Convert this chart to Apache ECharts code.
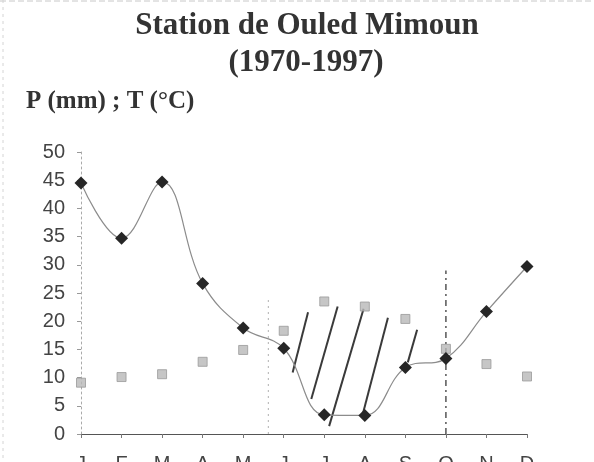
<!DOCTYPE html>
<html>
<head>
<meta charset="utf-8">
<script src="https://cdn.jsdelivr.net/npm/echarts@6/dist/echarts.min.js"></script>
<style>
  html, body { margin: 0; padding: 0; background: #fff; }
  #chart { width: 594px; height: 462px; }
</style>
</head>
<body>
<div id="chart"></div>
<script>
// Monthly climate normals, Ouled Mimoun station (1970-1997)
const months = ['J', 'F', 'M', 'A', 'M', 'J', 'J', 'A', 'S', 'O', 'N', 'D'];
const precipitation = [44.5, 34.7, 44.7, 26.7, 18.8, 15.2, 3.4, 3.3, 11.8, 13.4, 21.7, 29.7]; // P (mm)
const temperature = [9.1, 10.1, 10.6, 12.8, 14.9, 18.3, 23.5, 22.6, 20.4, 15.1, 12.4, 10.2];   // T (°C)
const yTicks = [0, 5, 10, 15, 20, 25, 30, 35, 40, 45, 50];

// Hand-drawn hatching of the dry season: [month index, value] start and end of each stroke
const hatchStart = [[5.22, 10.9], [5.68, 6.2], [6.12, 1.4], [6.96, 3.8], [8.06, 12.7]];
const hatchEnd   = [[5.60, 21.6], [6.33, 22.6], [6.97, 22.2], [7.57, 20.6], [8.29, 18.5]];

// Vertical markers bounding the dry period: [month index, top value]
const dryBounds = [[4.62, 24.0], [9.0, 29.0]];

const chart = echarts.init(document.getElementById('chart'), null, { renderer: 'canvas' });

const hatchSeries = hatchStart.map((s, i) => ({
  type: 'line',
  xAxisIndex: 1,
  data: [s, hatchEnd[i]],
  symbol: 'none',
  silent: true,
  lineStyle: { color: '#3a3a3a', width: 2 },
  z: 3
}));

const boundSeries = dryBounds.map((b, i) => ({
  type: 'line',
  xAxisIndex: 1,
  data: [[b[0], 0], [b[0], b[1]]],
  symbol: 'none',
  silent: true,
  lineStyle: i === 0
    ? { color: '#b0b0b0', width: 1, type: [2, 4] }
    : { color: '#555', width: 1.5, type: [6, 4, 2, 4] },
  z: 1
}));

chart.setOption({
  animation: false,
  backgroundColor: '#fff',
  graphic: [
    { type: 'line', shape: { x1: 0, y1: 1, x2: 594, y2: 1 }, style: { stroke: '#c8c8c8', lineWidth: 1, lineDash: [6, 3] } },
    { type: 'line', shape: { x1: 3, y1: 0, x2: 3, y2: 462 }, style: { stroke: '#d4d4d4', lineWidth: 1, lineDash: [3, 4] } }
  ],
  title: [
    {
      text: 'Station de Ouled Mimoun',
      left: 302, top: 5, textAlign: 'center',
      textStyle: { fontFamily: 'Liberation Serif', fontWeight: 'bold', fontSize: 31, color: '#333' }
    },
    {
      text: '(1970-1997)',
      left: 301, top: 42, textAlign: 'center',
      textStyle: { fontFamily: 'Liberation Serif', fontWeight: 'bold', fontSize: 31, color: '#333' }
    },
    {
      text: 'P (mm) ; T (°C)',
      left: 21, top: 84,
      textStyle: { fontFamily: 'Liberation Serif', fontWeight: 'bold', fontSize: 25, color: '#333' }
    }
  ],
  grid: { left: 81, right: 67, top: 152, bottom: 28, containLabel: false, outerBoundsMode: 'none' },
  xAxis: [
    {
      type: 'category',
      data: months,
      boundaryGap: false,
      axisLine: { lineStyle: { color: '#555', width: 1.2 } },
      axisTick: { alignWithLabel: true, length: 4, lineStyle: { color: '#777' } },
      axisLabel: { color: '#444', fontFamily: 'Liberation Sans', fontSize: 20, margin: 20 },
      splitLine: { show: false }
    },
    { type: 'value', min: 0, max: 11, show: false }
  ],
  yAxis: {
    type: 'value',
    min: 0, max: 50, interval: 5,
    axisLine: { show: true, lineStyle: { color: '#aaa', width: 1, type: [2, 3] } },
    axisTick: { show: true, length: 4, lineStyle: { color: '#999' } },
    axisLabel: {
      color: '#444', fontFamily: 'Liberation Sans', fontSize: 20, margin: 16,
      formatter: v => (yTicks.includes(v) ? String(v) : '')
    },
    splitLine: { show: false }
  },
  series: [
    ...boundSeries,
    ...hatchSeries,
    {
      name: 'P',
      type: 'line',
      data: precipitation,
      smooth: 0.4,
      symbol: 'diamond',
      symbolSize: 13,
      itemStyle: { color: '#262626' },
      lineStyle: { color: '#8c8c8c', width: 1.2 },
      z: 5
    },
    {
      name: 'T',
      type: 'scatter',
      data: temperature,
      symbol: 'rect',
      symbolSize: 9,
      itemStyle: { color: '#b8b8b8', borderColor: '#9a9a9a', borderWidth: 1 },
      z: 4
    }
  ]
});
</script>
</body>
</html>
